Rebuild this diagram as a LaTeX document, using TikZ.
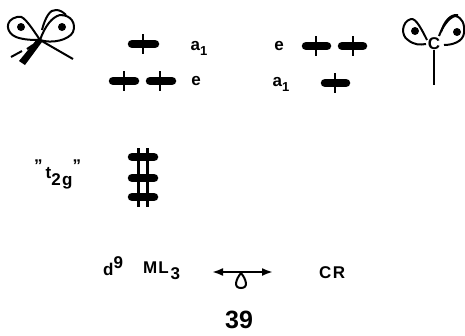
\documentclass[tikz,border=0pt]{standalone}
\usepackage{fontspec}
\setmainfont{Liberation Sans}
\usetikzlibrary{arrows.meta}
\tikzset{
  x=1pt,y=-1pt,
  level/.style={line width=8.5pt,line cap=round},
  spin/.style={line width=2.4pt},
  orb/.style={line width=2pt,line join=round},
  lab/.style={inner sep=0pt,font=\fontsize{17}{17}\selectfont\bfseries\addfontfeature{LetterSpace=8}},
  dotn/.style={circle,fill=black,inner sep=0pt,minimum size=8pt}
}
\newcommand{\lev}[4]{\draw[level] (#1+3,#3) -- (#2-3,#3); \draw[spin] (#4,#3-10) -- (#4,#3+10);}
\begin{document}
\begin{tikzpicture}
\useasboundingbox (0,0) rectangle (465,335);
% left orbital
\coordinate (cl) at (40,40);
\draw[orb] (cl) .. controls (28,22) and (22,14) .. (17,17) .. controls (4,20) and (6,33) .. (16,37) .. controls (24,40) and (33,40) .. (cl);
\draw[orb] (cl) .. controls (45,26) and (52,17) .. (60,15) .. controls (72,15) and (76,24) .. (73,32) .. controls (69,40) and (52,44) .. (cl);
\draw[orb] (42,30) .. controls (45,18) and (50,9) .. (56,10) .. controls (60,10) and (63,12) .. (66,15);
\node[dotn] (d1) at (21,27) {};
\node[dotn] (d2) at (62,27) {};
\draw[orb] (cl) -- (73,59);
\fill (cl) ++(-3,-1) -- (42,42) -- (25,65) -- (19,61) -- cycle;
\draw[line width=2pt] (33,45) -- (27,49) (22,51) -- (11,57);
% left levels
\lev{129}{158}{44}{143}
\lev{110}{138}{81}{124}
\lev{147}{175}{81}{160}
\node[lab] (a1l) at (199,48) {a\raisebox{-5pt}{\fontsize{13}{13}\selectfont 1}};
\node[lab] (el) at (196,81) {e};
% right levels
\node[lab] (er) at (279,46) {e};
\lev{303}{330}{46}{316}
\lev{339}{366}{46}{353}
\node[lab] (a1r) at (281,84) {a\raisebox{-5pt}{\fontsize{13}{13}\selectfont 1}};
\lev{322}{349}{83}{335}
% right orbital
\node[inner sep=0pt,font=\fontsize{17}{17}\selectfont\bfseries] (c) at (434,44) {C};
\draw[orb] (427,40) .. controls (422,30) and (416,18) .. (411,19) .. controls (401,22) and (401,36) .. (408,40) .. controls (414,45) and (420,45) .. (426,44);
\draw[orb] (439,36) .. controls (442,28) and (448,18) .. (455,16) .. controls (462,17) and (465,24) .. (464,33) .. controls (463,42) and (452,45) .. (444,45);
\draw[orb] (441,32) .. controls (444,22) and (450,14) .. (458,15);
\node[dotn] (d3) at (415,31) {};
\node[dotn] (d4) at (457,32) {};
\draw[line width=2pt] (c.south) -- (434,85);
% t2g
\node[lab,anchor=base west] (t) at (34,178) {\raisebox{7pt}{\fontsize{17}{17}\selectfont\symbol{34}}\hspace{3pt}t\raisebox{-7pt}{2g}\raisebox{7pt}{\fontsize{17}{17}\selectfont\symbol{34}}};
\foreach \yy in {157,178,197}{\draw[level] (132,\yy) -- (154,\yy);}
\draw[line width=3pt] (138,148) -- (138,207);
\draw[line width=3pt] (147,148) -- (147,207);
% bottom
\node[lab,anchor=west] (d) at (103,266) {d\raisebox{7pt}{9}};
\node[lab,anchor=west] (ml) at (143,271) {M\hspace{1pt}L\hspace{2pt}\raisebox{-6pt}{3}};
\node[lab,anchor=west] (cr) at (319,273) {CR};
\coordinate (al) at (212,272);
\coordinate (ar) at (273,272);
\draw[line width=2pt,{Latex[length=11pt,width=8pt]}-{Latex[length=11pt,width=8pt]}] (al) -- (ar);
\draw[line width=2pt] (241,273) .. controls (236,279) and (233,288) .. (241,288) .. controls (249,288) and (246,279) .. (241,273);
\node[inner sep=0pt,font=\fontsize{25}{25}\selectfont\bfseries] (n) at (239,320) {39};
\end{tikzpicture}
\end{document}
